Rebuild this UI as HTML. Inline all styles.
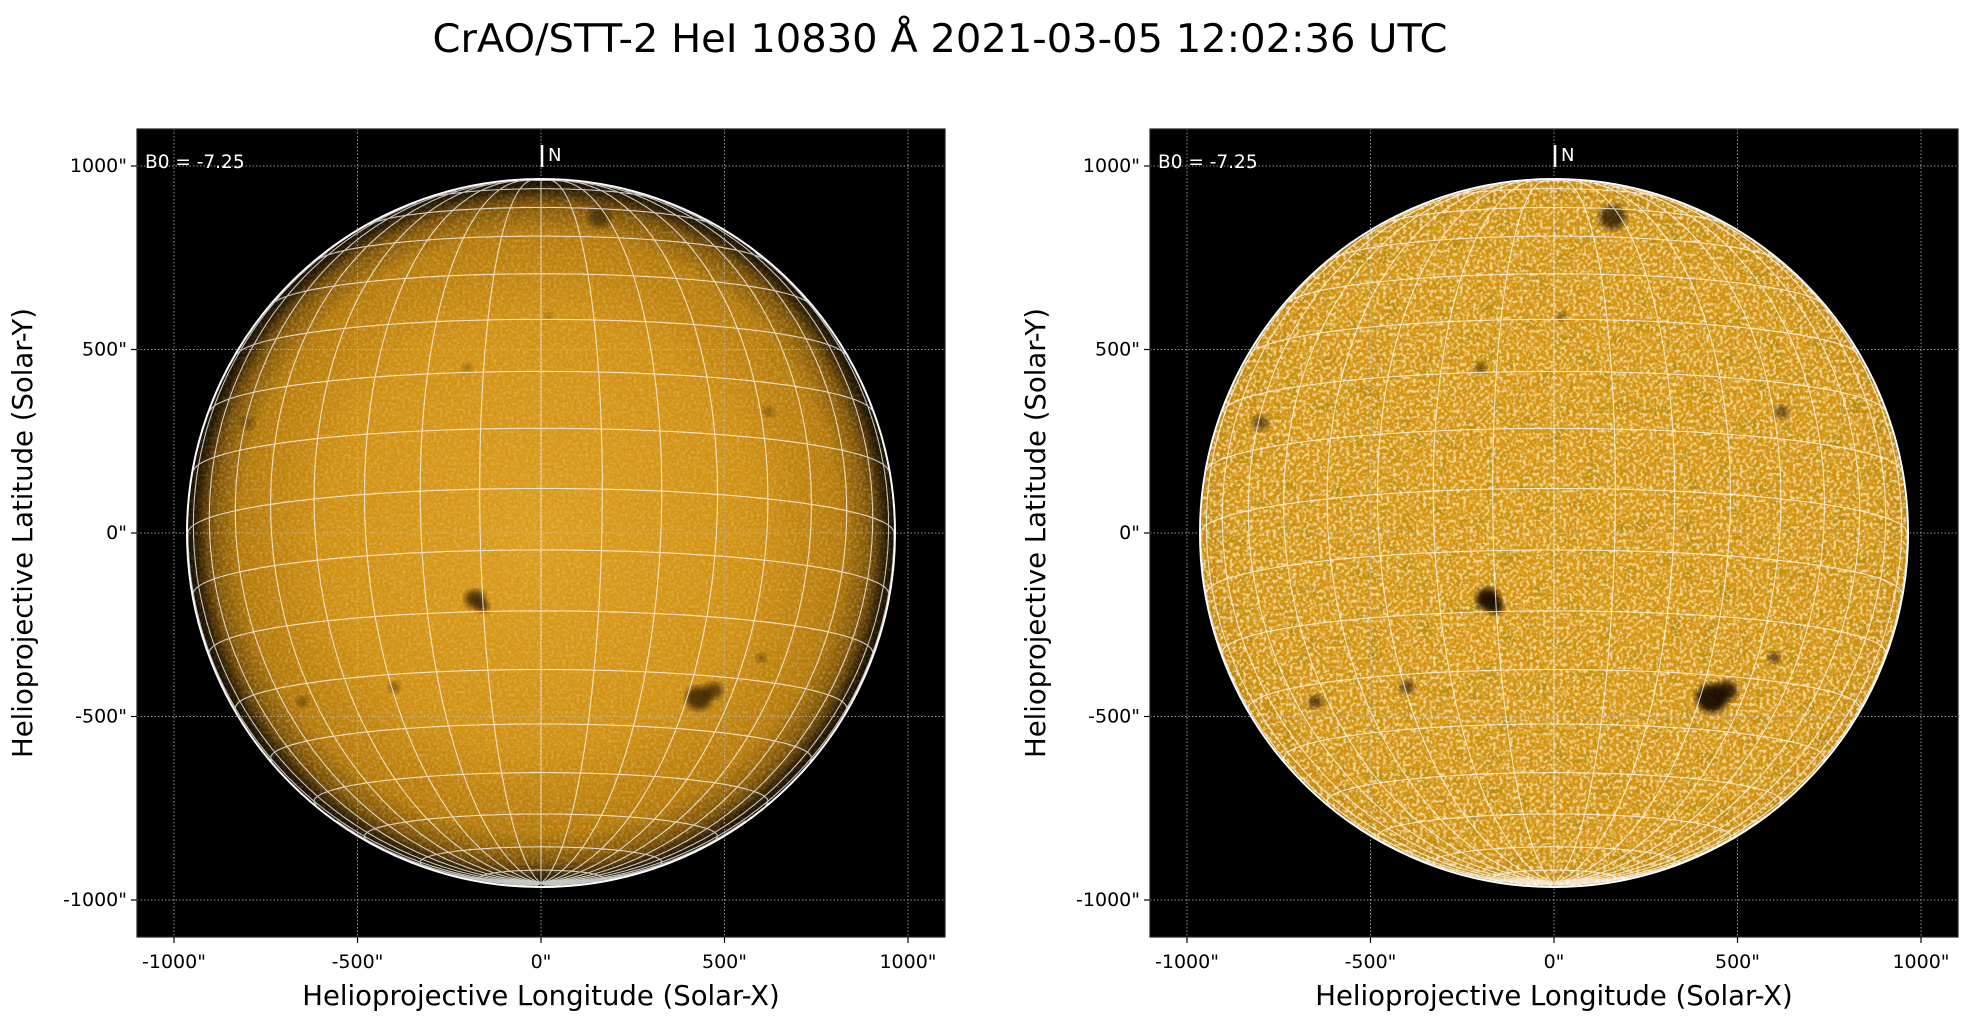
<!DOCTYPE html>
<html><head><meta charset="utf-8"><style>
body{margin:0;background:#fff;}
svg{display:block;font-family:"DejaVu Sans","Liberation Sans",sans-serif;}
</style></head><body>
<svg id="s" width="1971" height="1026" xmlns="http://www.w3.org/2000/svg">
<defs>
<filter id="noiseL" x="0" y="0" width="100%" height="100%">
<feTurbulence type="fractalNoise" baseFrequency="0.35" numOctaves="2" seed="3"/>
<feColorMatrix type="matrix" values="0 0 0 0 0.98  0 0 0 0 0.8  0 0 0 0 0.5  0 0 0 -2 1.2"/>
</filter>
<filter id="noiseR" x="0" y="0" width="100%" height="100%">
<feTurbulence type="fractalNoise" baseFrequency="0.3" numOctaves="2" seed="7"/>
<feColorMatrix type="matrix" values="0 0 0 0 1  0 0 0 0 0.93  0 0 0 0 0.72  0 0 0 -3.5 1.95"/>
</filter>
<filter id="darkR" x="0" y="0" width="100%" height="100%">
<feTurbulence type="fractalNoise" baseFrequency="0.06" numOctaves="2" seed="11"/>
<feColorMatrix type="matrix" values="0 0 0 0 0.35  0 0 0 0 0.22  0 0 0 0 0  0 0 0 3 -1.6"/>
</filter>
<filter id="blur6"><feGaussianBlur stdDeviation="6"/></filter>
<filter id="blur3"><feGaussianBlur stdDeviation="3"/></filter>
<radialGradient id="limbL" cx="50%" cy="50%" r="50%">
<stop offset="0" stop-color="#dc9c1c"/><stop offset="0.6" stop-color="#d09012"/><stop offset="0.85" stop-color="#b47a0a"/><stop offset="0.96" stop-color="#6a4505"/><stop offset="1" stop-color="#2a1a00"/>
</radialGradient>
<radialGradient id="limbR" cx="50%" cy="50%" r="50%">
<stop offset="0" stop-color="#d8970f"/><stop offset="0.9" stop-color="#d49410"/><stop offset="1" stop-color="#c88a0c"/>
</radialGradient>
<clipPath id="cL"><circle cx="541" cy="533" r="353"/></clipPath>
<clipPath id="cR"><circle cx="1554" cy="533" r="353"/></clipPath>
</defs>
<text x="940" y="52" font-size="39" text-anchor="middle" textLength="1015" lengthAdjust="spacingAndGlyphs">CrAO/STT-2 HeI 10830 Å 2021-03-05 12:02:36 UTC</text>
<g id="axes"></g>
</svg>
<script>
const NS="http://www.w3.org/2000/svg";
const root=document.getElementById('axes');
function el(t,a,p){const e=document.createElementNS(NS,t);for(const k in a)e.setAttribute(k,a[k]);(p||root).appendChild(e);return e;}
const S=0.367, R=353, B0=-7.25*Math.PI/180;
function panel(x0,cx,side){
  const cy=533, top=129, size=808;
  el('rect',{x:x0,y:top,width:size,height:size,fill:'#000'});
  const g=el('g',{'clip-path':`url(#c${side})`});
  el('circle',{cx,cy,r:R,fill:`url(#limb${side})`},g);
  if(side=='R') el('rect',{x:cx-R,y:cy-R,width:2*R,height:2*R,filter:'url(#darkR)',opacity:0.5},g);
  el('rect',{x:cx-R,y:cy-R,width:2*R,height:2*R,filter:`url(#noise${side})`,opacity:side=='L'?0.35:0.7},g);
  const spots=[[-180,-180,10,0.7],[-160,-200,7,0.6],[430,-450,13,0.7],[470,-430,9,0.6],[160,860,11,0.5],[-400,-420,6,0.4],[600,-340,5,0.4],[-650,-460,6,0.4],[620,330,6,0.3],[-200,450,5,0.3],[20,590,4,0.3],[-800,300,7,0.3]];
  for(const s of spots){el('ellipse',{cx:cx+s[0]*S,cy:cy-s[1]*S,rx:s[2]*(side=='R'?1.2:1),ry:s[2]*(side=='R'?1.1:0.9),fill:'#1a0e00',opacity:side=='R'?Math.min(1,s[3]+0.25):s[3],filter:'url(#blur3)'},g);}
  if(side=='L') el('circle',{cx,cy,r:R,fill:'none',stroke:'#000',"stroke-width":30,opacity:0.5,filter:'url(#blur6)'},g);
  let d='';
  const cb=Math.cos(B0), sb=Math.sin(B0);
  function proj(lat,lon){const x=Math.cos(lat)*Math.sin(lon);const y=cb*Math.sin(lat)-sb*Math.cos(lat)*Math.cos(lon);const z=sb*Math.sin(lat)+cb*Math.cos(lat)*Math.cos(lon);return [cx+x*R,cy-y*R,z];}
  for(let la=-80;la<=80;la+=10){let pen=false;for(let lo=-180;lo<=180;lo+=2){const p=proj(la*Math.PI/180,lo*Math.PI/180);if(p[2]>=0){d+=(pen?'L':'M')+p[0].toFixed(1)+' '+p[1].toFixed(1);pen=true;}else pen=false;}}
  for(let lo=-180;lo<180;lo+=10){let pen=false;for(let la=-90;la<=90;la+=2){const p=proj(la*Math.PI/180,lo*Math.PI/180);if(p[2]>=0){d+=(pen?'L':'M')+p[0].toFixed(1)+' '+p[1].toFixed(1);pen=true;}else pen=false;}}
  el('path',{d,fill:'none',stroke:'#fff','stroke-width':1.1,opacity:0.75},g);
  el('circle',{cx,cy,r:R+1,fill:'none',stroke:'#fff','stroke-width':2});
  for(const v of [-1000,-500,0,500,1000]){
    const x=cx+v*S, y=cy-v*S;
    el('line',{x1:x,y1:top,x2:x,y2:top+size,stroke:'#bbb','stroke-width':1,'stroke-dasharray':'1.5 2',opacity:0.8});
    el('line',{x1:x0,y1:y,x2:x0+size,y2:y,stroke:'#bbb','stroke-width':1,'stroke-dasharray':'1.5 2',opacity:0.8});
    el('line',{x1:x,y1:top+size,x2:x,y2:top+size+6,stroke:'#000','stroke-width':1.2});
    el('line',{x1:x0-6,y1:y,x2:x0,y2:y,stroke:'#000','stroke-width':1.2});
    el('text',{x:x,y:968,'font-size':19,'text-anchor':'middle'}).textContent=v+'"';
    el('text',{x:x0-10,y:y+6,'font-size':19,'text-anchor':'end'}).textContent=v+'"';
  }
  el('rect',{x:x0,y:top,width:size,height:size,fill:'none',stroke:'#222','stroke-width':1.2});
  el('line',{x1:cx+1,y1:145,x2:cx+1,y2:167,stroke:'#fff','stroke-width':2.5});
  el('text',{x:cx+7,y:161,'font-size':18,fill:'#fff'}).textContent='N';
  el('text',{x:x0+8,y:168,'font-size':18.5,fill:'#fff'}).textContent='B0 = -7.25';
  el('text',{x:cx,y:1005,'font-size':27.5,'text-anchor':'middle'}).textContent='Helioprojective Longitude (Solar-X)';
  const lx=x0-105;
  el('text',{x:lx,y:533,'font-size':27.5,'text-anchor':'middle',transform:`rotate(-90 ${lx} 533)`}).textContent='Helioprojective Latitude (Solar-Y)';
}
panel(137,541,'L');
panel(1150,1554,'R');
</script>
</body></html>
